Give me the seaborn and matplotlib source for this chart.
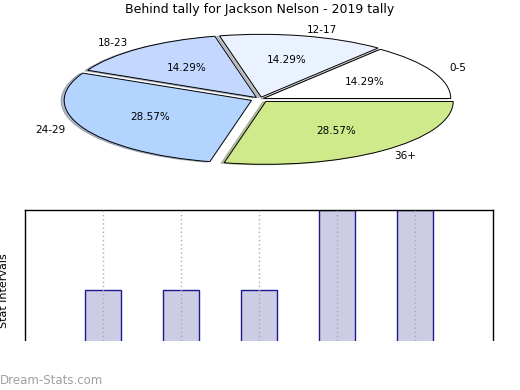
import matplotlib
matplotlib.use("Agg")
import matplotlib.pyplot as plt
from matplotlib.patches import Rectangle
import seaborn as sns
import pandas as pd

# Data
pie_labels = ["0-5", "12-17", "18-23", "24-29", "36+"]
pie_counts = [1, 1, 1, 2, 2]
pie_colors = ["#ffffff", "#eaf1ff", "#c4d8ff", "#b3d4ff", "#cfea8a"]
pie_explode = [0.02, 0.03, 0.03, 0.05, 0.05]

bar_cats = ["0-5", "12-17", "18-23", "24-29", "36+"]
bar_vals = [1, 1, 1, 2, 2]

title = "Behind tally for Jackson Nelson - 2019 tally"

W, H = 520, 390
sns.set_style("white")
plt.rcParams["font.family"] = ["DejaVu Sans"]
plt.rcParams["text.color"] = "black"

fig = plt.figure(figsize=(W / 100, H / 100), dpi=100)


def px_axes(x0, y0, x1, y1):
    # pixel box (top-left origin) -> figure fraction axes
    return fig.add_axes([x0 / W, 1 - y1 / H, (x1 - x0) / W, (y1 - y0) / H])


# 1. Elliptical pie on top
ax_pie = px_axes(67, 33, 453, 165)
wedges, texts, autotexts = ax_pie.pie(
    pie_counts, labels=pie_labels, colors=pie_colors, explode=pie_explode,
    startangle=0, counterclock=True,
    shadow={"ox": -0.012, "oy": -0.006, "shade": 0.45},
    autopct="%.2f%%", pctdistance=0.6, labeldistance=1.1,
    wedgeprops={"edgecolor": "black", "linewidth": 0.7},
    textprops={"fontsize": 7.5, "color": "black"},
)
ax_pie.set_aspect("auto")
ax_pie.set_xlim(-1.03, 1.03)
ax_pie.set_ylim(-1.05, 1.05)
ax_pie.axis("off")
fig.text(260 / W, 1 - 10 / H, title, ha="center", va="center", fontsize=9)

# 2. Bar chart below (its lower part is hidden like in the source)
ax_bar = px_axes(25, 210, 493, 370)
df = pd.DataFrame({"cat": bar_cats, "val": bar_vals})
sns.barplot(data=df, x="cat", y="val", ax=ax_bar, color="#ccccE4",
            edgecolor="#1a1a8c", linewidth=1, width=0.46, saturation=1)
ax_bar.set_xlim(-1, len(bar_cats))
ax_bar.set_ylim(0, 2)
ax_bar.set_xlabel("")
ax_bar.set_ylabel("")
ax_bar.set_xticks(range(len(bar_cats)))
ax_bar.tick_params(length=0, labelbottom=False, labelleft=False)
ax_bar.set_yticks([])
ax_bar.set_axisbelow(False)
ax_bar.grid(axis="x", color="#aaaaaa", linestyle=(0, (1, 2)), linewidth=1)
for s in ax_bar.spines.values():
    s.set_color("black")
    s.set_linewidth(1)

fig.text(4 / W, 1 - 291 / H, "Stat intervals", rotation=90,
         ha="center", va="center", fontsize=8)

# white cover over the clipped lower part
fig.patches.append(Rectangle((0, 0), 1, 1 - 341 / H, transform=fig.transFigure,
                             facecolor="white", edgecolor="none", zorder=10))
fig.text(0, 1 - 380 / H, "Dream-Stats.com", ha="left", va="center",
         fontsize=8.5, color="#a0a0a0", zorder=11)

fig.savefig("out.png", dpi=100)
